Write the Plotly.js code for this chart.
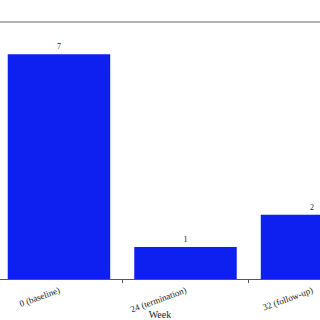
<!DOCTYPE html>
<html>
<head>
<meta charset="utf-8">
<script src="https://cdn.plot.ly/plotly-3.0.1.min.js"></script>
<style>
  html, body { margin: 0; padding: 0; background: #fff; }
  #chart { width: 320px; height: 320px; }
</style>
</head>
<body>
<div id="chart"></div>
<script>
// Counts per study week
const weeks = ['0 (baseline)', '24 (termination)', '32 (follow-up)'];
const counts = [7, 1, 2];

const serif = 'Liberation Serif, Times New Roman, serif';

const trace = {
  type: 'bar',
  x: weeks,
  y: counts,
  text: counts.map(String),
  textposition: 'outside',
  textfont: { family: serif, size: 8, color: '#222' },
  cliponaxis: false,
  marker: { color: '#0d20ef', line: { width: 0 } },
  hoverinfo: 'skip'
};

const layout = {
  width: 320,
  height: 320,
  margin: { l: 0, r: 0, t: 22, b: 41 },
  paper_bgcolor: '#fff',
  plot_bgcolor: '#fff',
  bargap: 0.19,
  showlegend: false,
  xaxis: {
    type: 'category',
    range: [-0.466, 2.063],
    showline: true,
    linecolor: '#555',
    linewidth: 1,
    ticks: 'outside',
    tickson: 'boundaries',
    ticklen: 3,
    tickcolor: '#555',
    tickangle: -20,
    ticklabelstandoff: 2,
    tickfont: { family: serif, size: 9, color: '#222' },
    showgrid: false,
    zeroline: false,
    title: { text: 'Week', font: { family: serif, size: 10, color: '#222' }, standoff: 10 }
  },
  yaxis: {
    range: [0, 8],
    showline: false,
    showgrid: false,
    zeroline: false,
    showticklabels: false,
    ticks: ''
  },
  shapes: [{
    type: 'line', xref: 'paper', yref: 'paper',
    x0: 0, x1: 1, y0: 1, y1: 1,
    line: { color: '#999', width: 1.5 }
  }]
};

Plotly.newPlot('chart', [trace], layout, { staticPlot: true, displayModeBar: false });
</script>
</body>
</html>
